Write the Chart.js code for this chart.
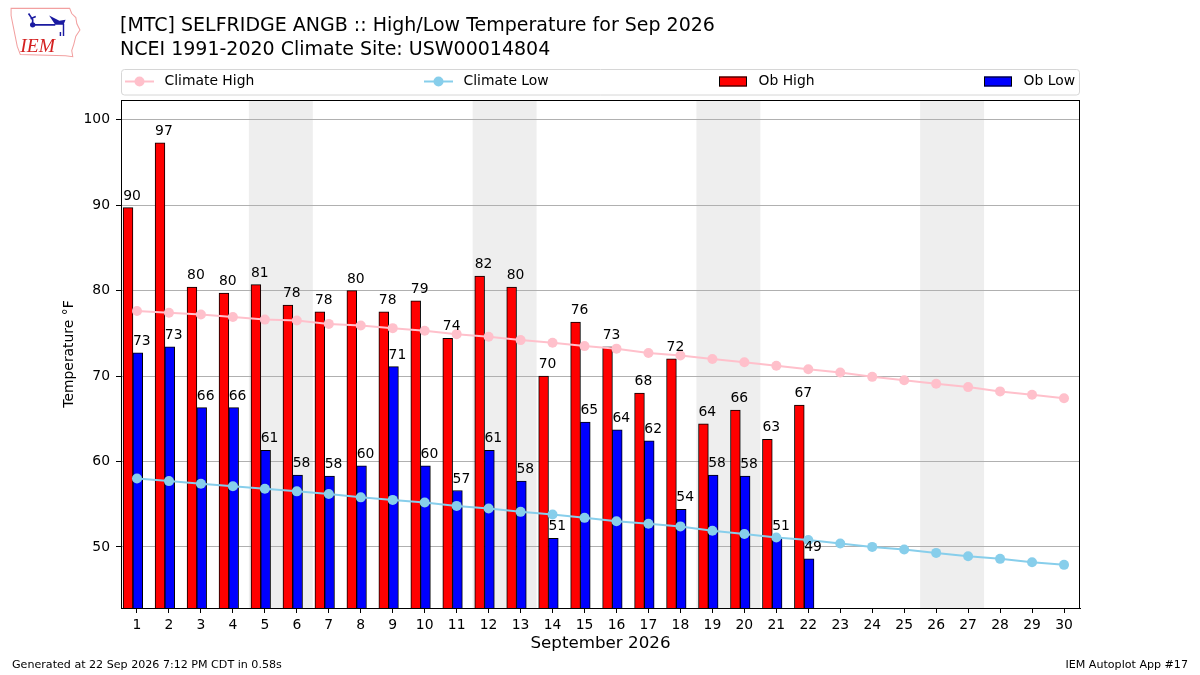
<!DOCTYPE html>
<html>
<head>
<meta charset="utf-8">
<script src="https://cdn.jsdelivr.net/npm/chart.js@4.4.1/dist/chart.umd.min.js"></script>
<style>
  html, body { margin:0; padding:0; background:#fff; }
  #wrap { position:relative; width:1200px; height:675px; font-family:'DejaVu Sans', sans-serif; color:#000; }
  #chart { position:absolute; left:0; top:0; }
  .title { position:absolute; left:120px; top:12px; font-size:19px; line-height:24px; white-space:nowrap; }
  .foot { position:absolute; top:658px; font-size:11.1px; white-space:nowrap; }
  .logo { position:absolute; left:8px; top:5px; }
</style>
</head>
<body>
<div id="wrap">
  <canvas id="chart" width="1200" height="675"></canvas>
  <svg class="logo" width="74" height="54" viewBox="0 0 72 52">
    <path d="M3,3 L60,3 L62,8 L66,12 L67,18 L70,24 L66,30 L64,38 L62,44 L63,50 L56,49 L12,48 L9,40 L7,30 L5,20 L3,10 Z" fill="#fff" stroke="#f2a0a0" stroke-width="1"/>
    <path d="M20,8 L24,14 L24,19 M24,19 L46,19 M22,13 L27,11" stroke="#1a1aa0" stroke-width="1.6" fill="none"/>
    <circle cx="24" cy="19" r="2.6" fill="#1a1aa0"/>
    <path d="M40,10 L50,15 L56,14 L54,19 L46,19 Z" fill="#1a1aa0"/>
    <path d="M54,18 L54,30 M51,26 L51,30" stroke="#1a1aa0" stroke-width="1.4"/>
    <text x="12" y="45" font-family="Liberation Serif" font-style="italic" font-size="19" fill="#d42020">IEM</text>
  </svg>
  <div class="title">[MTC] SELFRIDGE ANGB :: High/Low Temperature for Sep 2026<br>NCEI 1991-2020 Climate Site: USW00014804</div>
  <div class="foot" style="left:12px;">Generated at 22 Sep 2026 7:12 PM CDT in 0.58s</div>
  <div class="foot" style="right:12px;">IEM Autoplot App #17</div>
</div>
<script>
const days = [1,2,3,4,5,6,7,8,9,10,11,12,13,14,15,16,17,18,19,20,21,22,23,24,25,26,27,28,29,30];
const obHigh = [89.7,97.3,80.4,79.7,80.7,78.3,77.5,80.0,77.5,78.8,74.4,81.7,80.4,70.0,76.3,73.4,68.0,72.0,64.4,66.0,62.6,66.6];
const obLow  = [72.7,73.4,66.3,66.3,61.3,58.4,58.3,59.5,71.1,59.5,56.6,61.3,57.7,51.0,64.6,63.7,62.4,54.4,58.4,58.3,51.1,48.6];
const climHigh = [77.6,77.4,77.2,76.9,76.6,76.5,76.1,75.9,75.6,75.3,74.9,74.6,74.2,73.9,73.5,73.2,72.7,72.4,72.0,71.6,71.2,70.8,70.4,69.9,69.5,69.1,68.7,68.2,67.8,67.4];
const climLow  = [58.0,57.7,57.4,57.1,56.8,56.5,56.2,55.8,55.5,55.2,54.8,54.5,54.1,53.8,53.4,53.0,52.7,52.4,51.9,51.5,51.1,50.8,50.4,50.0,49.7,49.3,48.9,48.6,48.2,47.9];
const weekendStarts = [5,12,19,26];
const yTicks = [50,60,70,80,90,100];

const FONT = "'DejaVu Sans', sans-serif";
const HIGH_SHIFT = -0.28, LOW_SHIFT = 0.025;
Chart.defaults.font.family = FONT;
Chart.defaults.color = '#000';

// grey weekend bands, under the grid
const weekendBands = {
  id:'weekendBands',
  beforeDraw(chart){
    const {ctx, chartArea:a, scales:{x}} = chart;
    ctx.save();
    ctx.fillStyle = '#eeeeee';
    weekendStarts.forEach(d=>{
      const x0 = x.getPixelForValue(d-0.5), x1 = x.getPixelForValue(d+1.5);
      ctx.fillRect(x0, a.top, x1-x0, a.bottom-a.top);
    });
    ctx.restore();
  }
};

// value labels, left aligned on each bar
const barLabels = {
  id:'barLabels',
  afterDatasetsDraw(chart){
    const ctx = chart.ctx;
    ctx.save();
    ctx.font = '13.9px ' + FONT;
    ctx.fillStyle = '#000';
    ctx.textAlign = 'left';
    ctx.textBaseline = 'alphabetic';
    chart.data.datasets.forEach((ds,i)=>{
      if (ds.type !== 'bar') return;
      chart.getDatasetMeta(i).data.forEach((el,j)=>{
        ctx.fillText(String(Math.round(ds.data[j].y)), el.x - el.width/2, el.y - 8);
      });
    });
    ctx.restore();
  }
};

// frame + legend box above the plot
const frameLegend = {
  id:'frameLegend',
  afterDraw(chart){
    const {ctx, chartArea:a} = chart;
    ctx.save();
    ctx.strokeStyle = '#000';
    ctx.lineWidth = 1;
    ctx.strokeRect(a.left+0.5, a.top+0.5, a.right-a.left-1, a.bottom-a.top);

    ctx.beginPath();
    ctx.roundRect(a.left+0.5, 69.5, a.right-a.left-1, 25.5, 3);
    ctx.fillStyle = '#fff';
    ctx.fill();
    ctx.strokeStyle = '#d6d6d6';
    ctx.stroke();

    const slots = [125, 424, 719, 984];
    const y = 81.5;
    ctx.font = '13.9px ' + FONT;
    ctx.textBaseline = 'middle';
    chart.data.datasets.forEach((ds,i)=>{
      const x = slots[i];
      if (ds.type === 'line') {
        ctx.strokeStyle = ds.borderColor; ctx.lineWidth = 2;
        ctx.beginPath(); ctx.moveTo(x, y); ctx.lineTo(x+29, y); ctx.stroke();
        ctx.fillStyle = ds.borderColor;
        ctx.beginPath(); ctx.arc(x+14.5, y, 5, 0, Math.PI*2); ctx.fill();
      } else {
        ctx.fillStyle = ds.backgroundColor;
        ctx.fillRect(x, y-5, 28, 10);
        ctx.strokeStyle = '#000'; ctx.lineWidth = 1;
        ctx.strokeRect(x+0.5, y-4.5, 27, 9);
      }
      ctx.fillStyle = '#000';
      ctx.fillText(ds.label, x+39.5, y);
    });
    ctx.restore();
  }
};

new Chart(document.getElementById('chart'), {
  data:{
    datasets:[
      {type:'line', label:'Climate High', data:days.map((d,i)=>({x:d, y:climHigh[i]})),
       borderColor:'#ffc0cb', backgroundColor:'#ffc0cb', borderWidth:2, pointRadius:5, pointBorderWidth:0, order:0},
      {type:'line', label:'Climate Low', data:days.map((d,i)=>({x:d, y:climLow[i]})),
       borderColor:'#87ceeb', backgroundColor:'#87ceeb', borderWidth:2, pointRadius:5, pointBorderWidth:0, order:0},
      {type:'bar', label:'Ob High', data:obHigh.map((v,i)=>({x:days[i]+HIGH_SHIFT, y:v})),
       backgroundColor:'#ff0000', borderColor:'#000', borderWidth:1, borderSkipped:false, barThickness:9.8, grouped:false, order:1},
      {type:'bar', label:'Ob Low', data:obLow.map((v,i)=>({x:days[i]+LOW_SHIFT, y:v})),
       backgroundColor:'#0000ff', borderColor:'#000', borderWidth:1, borderSkipped:false, barThickness:9.8, grouped:false, order:1},
    ]
  },
  options:{
    responsive:false,
    animation:false,
    layout:{padding:{left:0, right:120, top:100, bottom:0}},
    plugins:{legend:{display:false}, tooltip:{enabled:false}},
    scales:{
      x:{
        type:'linear', min:0.5, max:30.5, offset:false,
        afterBuildTicks:s=>{ s.ticks = days.map(v=>({value:v})); },
        afterFit:s=>{ s.height = 67; },
        ticks:{autoSkip:false, stepSize:1, font:{size:13.9}, padding:4, maxRotation:0},
        grid:{offset:false, drawOnChartArea:false, drawTicks:true, tickLength:5, tickColor:'#000'},
        border:{color:'#000', width:1},
        title:{display:true, text:'September 2026', font:{size:16.7}, padding:{top:0, bottom:21}}
      },
      y:{
        min:42.85, max:102.3,
        afterBuildTicks:s=>{ s.ticks = yTicks.map(v=>({value:v})); },
        afterFit:s=>{ s.width = 121; },
        ticks:{font:{size:13.9}, padding:6},
        grid:{color:'#b0b0b0', lineWidth:1, tickLength:5, tickColor:'#000'},
        border:{color:'#000', width:1},
        title:{display:true, text:'Temperature °F', font:{size:13.9}, padding:{top:61, bottom:0}}
      }
    }
  },
  plugins:[weekendBands, barLabels, frameLegend]
});
</script>
</body>
</html>
